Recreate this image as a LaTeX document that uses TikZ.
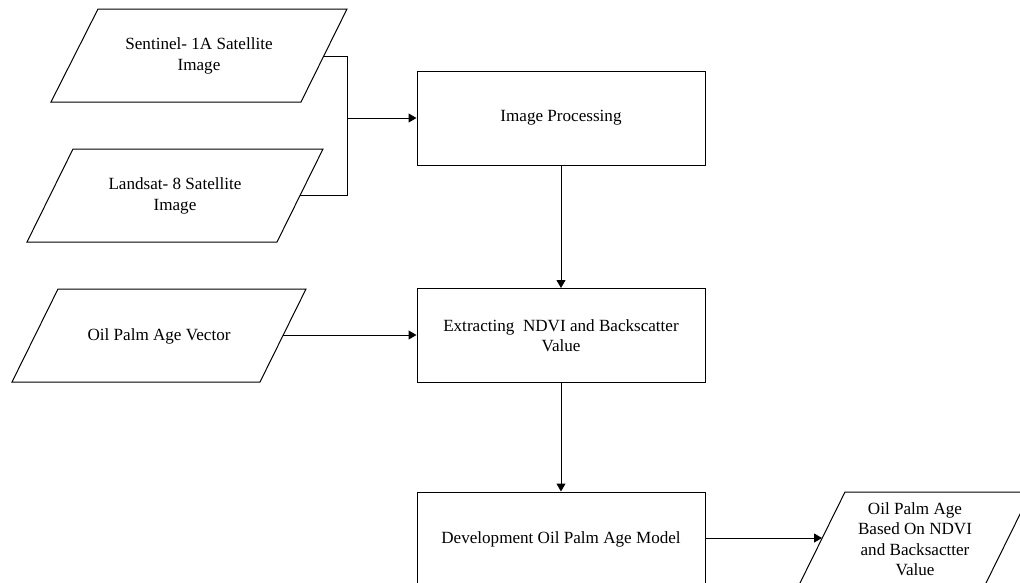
\documentclass[tikz,border=0pt]{standalone}
\usepackage{fontspec}
\setmainfont{Liberation Serif}
\usetikzlibrary{arrows.meta}
\tikzset{
  every picture/.style={line width=1pt},
  procbox/.style={draw, rectangle, minimum width=288pt, minimum height=94pt, inner sep=0pt, align=center, font=\fontsize{17.1}{20.5}\selectfont},
  lbl/.style={align=center, inner sep=0pt, font=\fontsize{17.1}{20.5}\selectfont},
  arr/.style={-{Triangle[length=8pt,width=9pt]}},
  plain/.style={draw, line join=miter}
}
\begin{document}
\begin{tikzpicture}[x=1pt,y=-1pt]
\useasboundingbox (0,0) rectangle (1020,582);
\clip (0,0) rectangle (1020,582);
% input parallelograms
\draw[plain] (98,9) -- (347,9) -- (301,102) -- (51,102) -- cycle;
\node[lbl] (p1) at (199,56) {Sentinel- 1A Satellite\\Image};
\coordinate (p1r) at (324,56);
\draw[plain] (73,149) -- (323,149) -- (277,242) -- (27,242) -- cycle;
\node[lbl] (p2) at (175,196) {Landsat- 8 Satellite\\Image};
\coordinate (p2r) at (300,195);
\draw[plain] (58,289) -- (306,289) -- (260,382) -- (12,382) -- cycle;
\node[lbl] (p3) at (159,336) {Oil Palm Age Vector};
\coordinate (p3r) at (283,335);
\draw[plain] (845,492) -- (1031,492) -- (985,585) -- (799,585) -- cycle;
\node[lbl] (p4) at (915,539) {Oil Palm Age\\Based On NDVI\\and Backsactter\\Value};
\coordinate (p4l) at (822,538);
% process boxes
\node[procbox] (b1) at (561,118) {Image Processing};
\node[procbox] (b2) at (561,335.5) {Extracting\ \ NDVI and Backscatter\\Value};
\node[procbox] (b3) at (561,539) {Development Oil Palm Age Model};
% connectors
\coordinate (j) at (347,118);
\draw (p1r) -| (j);
\draw (p2r) -| (j);
\draw[arr] (j) -- (b1.west);
\draw[arr] (b1.south) -- (b2.north);
\draw[arr] (p3r) -- (p3r -| b2.west);
\draw[arr] (b2.south) -- (b3.north);
\draw[arr] (b3.east |- p4l) -- (p4l);
\end{tikzpicture}
\end{document}
